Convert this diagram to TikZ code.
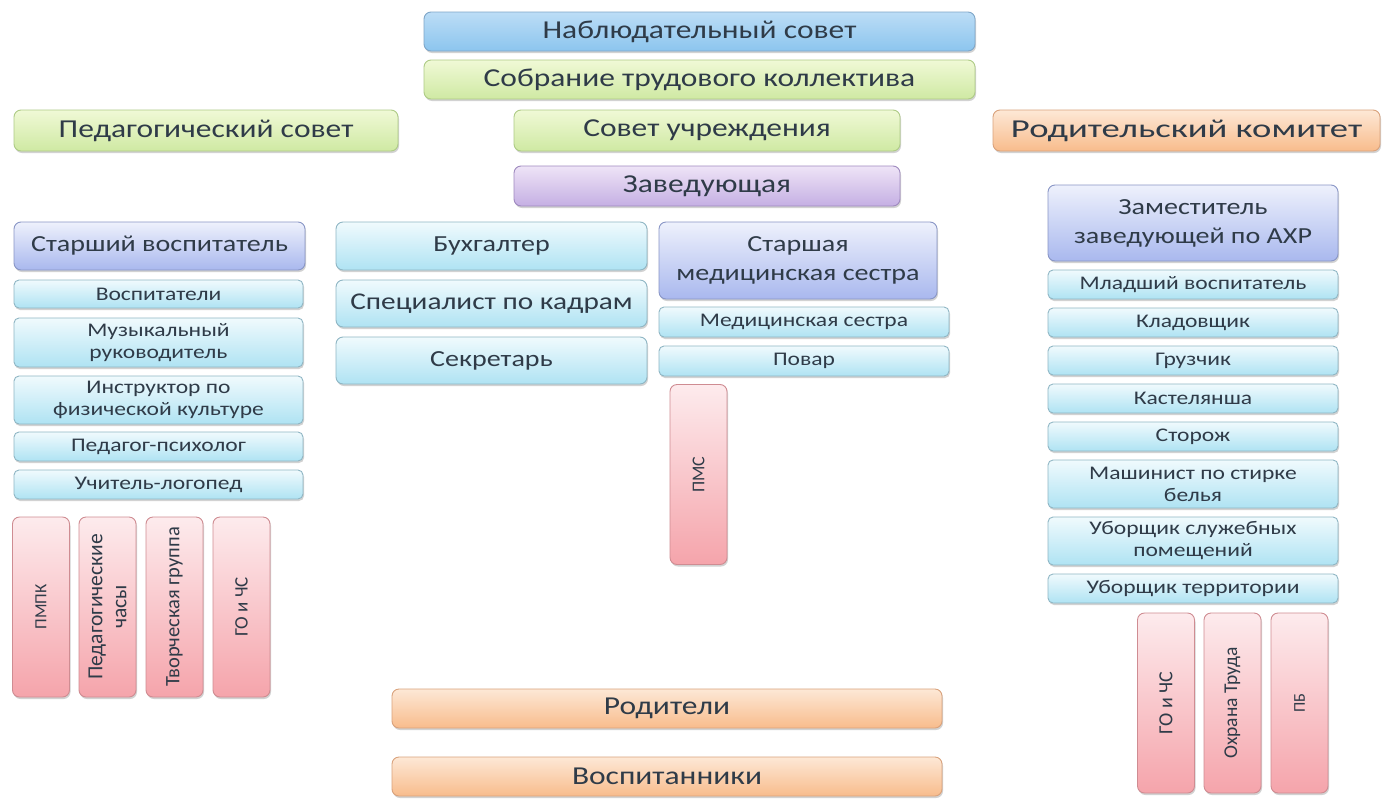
\documentclass[tikz,border=0pt]{standalone}
\usepackage{fontspec}
\setmainfont{Carlito}
\newfontfamily\wide[FakeStretch=1.22]{Carlito}
\newfontfamily\wider[FakeStretch=1.42]{Carlito}
\usetikzlibrary{shadows}
\definecolor{txt}{HTML}{2F3B48}
\definecolor{blT}{HTML}{BCDDF6}\definecolor{blB}{HTML}{8CC5EE}\definecolor{blD}{HTML}{7FA6C8}
\definecolor{grT}{HTML}{F0F9D6}\definecolor{grB}{HTML}{CFE9A3}\definecolor{grD}{HTML}{AECB86}
\definecolor{orT}{HTML}{FDE8D6}\definecolor{orB}{HTML}{F8BC8C}\definecolor{orD}{HTML}{D9A27C}
\definecolor{puT}{HTML}{EEE4F7}\definecolor{puB}{HTML}{C5AFE3}\definecolor{puD}{HTML}{9F8ABF}
\definecolor{viT}{HTML}{EEF1FC}\definecolor{viB}{HTML}{A9B8EE}\definecolor{viD}{HTML}{8996C6}
\definecolor{cyT}{HTML}{F0FAFD}\definecolor{cyB}{HTML}{AFE3F3}\definecolor{cyD}{HTML}{8FB6C4}
\definecolor{piT}{HTML}{FDEBED}\definecolor{piB}{HTML}{F5A4AB}\definecolor{piD}{HTML}{CF8C92}
\tikzset{
  base/.style={rounded corners=7pt, inner sep=0pt, align=center, text=txt,
    line width=0.9pt,
    drop shadow={shadow xshift=1pt, shadow yshift=-2pt, opacity=0.25, fill=black!70}},
  bigfont/.style={font=\wide\fontsize{25.8}{28}\selectfont},
  bluebox/.style={base, top color=blT, bottom color=blB, draw=blD, bigfont},
  greenbox/.style={base, top color=grT, bottom color=grB, draw=grD, bigfont},
  orangebox/.style={base, top color=orT, bottom color=orB, draw=orD, bigfont},
  purplebox/.style={base, top color=puT, bottom color=puB, draw=puD, bigfont},
  headbox/.style={base, top color=viT, bottom color=viB, draw=viD, font=\wide\fontsize{23}{29}\selectfont},
  midbox/.style={base, top color=cyT, bottom color=cyB, draw=cyD, font=\wide\fontsize{23}{29}\selectfont},
  smallbox/.style={base, top color=cyT, bottom color=cyB, draw=cyD, rounded corners=5pt, font=\wide\fontsize{19.3}{22}\selectfont},
  rotbox/.style={base, top color=piT, bottom color=piB, draw=piD, rotate=90,
    minimum width=180pt, minimum height=57pt},
}
\newcommand\bx[7]{\node[#6, minimum width={(#4-#2)*1pt}, minimum height={(#5-#3)*1pt}] (#1) at ({(#2+#4)/2},{(#3+#5)/2}) {#7};}
\newcommand\rsz[1]{\fontsize{#1}{24}\selectfont}
\begin{document}
\begin{tikzpicture}[x=1pt,y=-1pt]
\useasboundingbox[fill=white] (0,0) rectangle (1386,806);
% top
\bx{ns}{424}{12}{975}{51}{bluebox}{Наблюдательный совет}
\bx{stk}{424}{60}{975}{99}{greenbox}{Собрание трудового коллектива}
\bx{ps}{14}{110}{398}{151}{greenbox}{Педагогический совет}
\bx{su}{514}{110}{900}{151}{greenbox}{Совет учреждения}
\bx{rk}{993}{110}{1380}{151}{orangebox, font=\wider\fontsize{25.8}{28}\selectfont}{Родительский комитет}
\bx{zav}{514}{166}{900}{206}{purplebox}{Заведующая}
% left column
\bx{sv}{14}{222}{305}{270}{headbox}{Старший воспитатель}
\bx{v1}{14}{280}{303}{308}{smallbox}{Воспитатели}
\bx{v2}{14}{318}{303}{367}{smallbox}{Музыкальный\\руководитель}
\bx{v3}{14}{376}{303}{424}{smallbox}{Инструктор по\\физической культуре}
\bx{v4}{14}{432}{303}{461}{smallbox}{Педагог-психолог}
\bx{v5}{14}{470}{303}{499}{smallbox}{Учитель-логопед}
\node[rotbox, font=\rsz{17}] (p1) at (41,607) {ПМПК};
\node[rotbox, font=\rsz{21.5}] (p2) at (107.5,607) {Педагогические\\часы};
\node[rotbox, font=\rsz{20.5}] (p3) at (174.5,607) {Творческая группа};
\node[rotbox, font=\rsz{19}] (p4) at (241.5,607) {ГО и ЧС};
% middle
\bx{bh}{336}{222}{647}{270}{midbox}{Бухгалтер}
\bx{sk}{336}{280}{647}{327}{midbox, font=\wide\fontsize{24}{29}\selectfont}{Специалист по кадрам}
\bx{sek}{336}{337}{647}{384}{midbox}{Секретарь}
\bx{sms}{659}{222}{937}{299}{headbox}{Старшая\\медицинская сестра}
\bx{ms}{659}{307}{949}{337}{smallbox}{Медицинская сестра}
\bx{pov}{659}{346}{949}{376}{smallbox}{Повар}
\node[rotbox, font=\rsz{18}] (pms) at (698.5,474.5) {ПМС};
% right column
\bx{zam}{1048}{185}{1338}{261}{headbox}{Заместитель\\заведующей по АХР}
\bx{r1}{1048}{270}{1338}{299}{smallbox}{Младший воспитатель}
\bx{r2}{1048}{308}{1338}{337}{smallbox}{Кладовщик}
\bx{r3}{1048}{346}{1338}{375}{smallbox}{Грузчик}
\bx{r4}{1048}{384}{1338}{413}{smallbox}{Кастелянша}
\bx{r5}{1048}{422}{1338}{451}{smallbox}{Сторож}
\bx{r6}{1048}{460}{1338}{508}{smallbox}{Машинист по стирке\\белья}
\bx{r7}{1048}{517}{1338}{565}{smallbox}{Уборщик служебных\\помещений}
\bx{r8}{1048}{574}{1338}{603}{smallbox}{Уборщик территории}
\node[rotbox, font=\rsz{20}] (q1) at (1166,703) {ГО и ЧС};
\node[rotbox, font=\rsz{19.5}] (q2) at (1232.5,703) {Охрана Труда};
\node[rotbox, font=\rsz{16.5}] (q3) at (1299.5,703) {ПБ};
% bottom
\bx{rod}{392}{689}{942}{728}{orangebox}{Родители}
\bx{vos}{392}{757}{942}{796}{orangebox}{Воспитанники}
\end{tikzpicture}
\end{document}
